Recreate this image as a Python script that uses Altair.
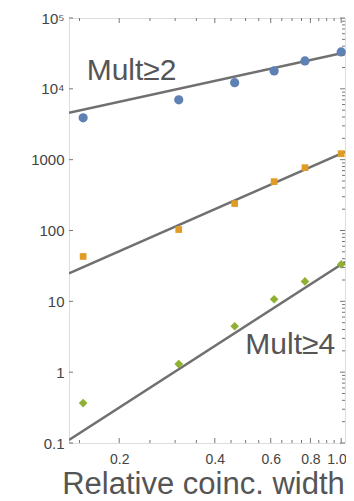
import altair as alt
import pandas as pd

# ---- data ----
x_vals = [0.154, 0.308, 0.462, 0.615, 0.769, 1.0]
mult2 = [3900, 7000, 12200, 17900, 24800, 33200]
mult3 = [43, 103, 240, 490, 771, 1216]
mult4 = [0.366, 1.30, 4.45, 10.7, 19.1, 33.2]

fit_x = [0.139, 1.028]
fit2 = [4600, 32500]
fit3 = [24.8, 1285]
fit4 = [0.11, 36.0]

labels_text = ["Mult≥2", "Mult≥4"]
labels_x = [0.158, 0.499]
labels_y = [13400, 1.80]

x_major = [0.2, 0.4, 0.6, 0.8, 1.0]
x_minor = [0.15, 0.25, 0.3, 0.35, 0.45, 0.5, 0.55, 0.65, 0.7, 0.75, 0.85, 0.9, 0.95]
y_major = [0.1, 1, 10, 100, 1000, 10000, 100000]
y_major_labels = ["0.1", "1", "10", "100", "1000", "10⁴", "10⁵"]
y_minor = [m * d for d in [0.1, 1, 10, 100, 1000, 10000] for m in range(2, 10)]

W, H = 276, 425
FONT = "Liberation Sans"
SPINE = "#777777"

xscale = alt.Scale(type="log", domain=[0.139, 1.028], nice=False)
yscale = alt.Scale(type="log", domain=[0.1, 100000], nice=False)

pts = pd.DataFrame({
    "x": x_vals * 3,
    "y": mult2 + mult3 + mult4,
    "s": ["m2"] * 6 + ["m3"] * 6 + ["m4"] * 6,
})
fits = pd.DataFrame({
    "x": fit_x * 3,
    "y": fit2 + fit3 + fit4,
    "s": ["m2"] * 2 + ["m3"] * 2 + ["m4"] * 2,
})
labs = pd.DataFrame({"t": labels_text, "x": labels_x, "y": labels_y})

ylabel_expr = " : ".join(
    f"datum.value == {v} ? '{l}'" for v, l in zip(y_major, y_major_labels)
) + " : ''"

x_axis = alt.Axis(
    values=x_major, format=".1f", grid=False, domain=False, ticks=False,
    labelFont=FONT, labelFontSize=14, labelColor="#444444", labelPadding=9,
    labelFlush=False, labelOverlap=False,
    labelAlign={"condition": {"test": "datum.value > 0.95", "value": "right"}, "value": "center"},
    labelOffset={"condition": {"test": "datum.value > 0.95", "value": 5}, "value": 0},
    title="Relative coinc. width", titleFont=FONT, titleFontSize=31,
    titleFontWeight="normal", titleColor="#555555", titleX=134, titleY=50,
    titleAlign="center", titleBaseline="alphabetic",
)
y_axis = alt.Axis(
    values=y_major, labelExpr=ylabel_expr, grid=False, domain=False, ticks=False,
    labelFont=FONT, labelFontSize=15, labelColor="#444444", labelPadding=5,
    labelFlush=False, labelOverlap=False, title=None,
)

lines = alt.Chart(fits).mark_line(color="#707070", strokeWidth=2.5, clip=True).encode(
    x=alt.X("x:Q", scale=xscale, axis=x_axis),
    y=alt.Y("y:Q", scale=yscale, axis=y_axis),
    detail="s:N",
)

def series(name, shape, color, size):
    return alt.Chart(pts[pts.s == name]).mark_point(
        shape=shape, filled=True, color=color, size=size, opacity=1
    ).encode(
        x=alt.X("x:Q", scale=xscale),
        y=alt.Y("y:Q", scale=yscale),
    )

p2 = series("m2", "circle", "#5e81b5", 85)
p3 = series("m3", "square", "#e19c24", 45)
p4 = series("m4", "diamond", "#8fb032", 75)

texts = alt.Chart(labs).mark_text(
    font=FONT, fontSize=30, color="#555555", align="left", baseline="alphabetic"
).encode(
    x=alt.X("x:Q", scale=xscale),
    y=alt.Y("y:Q", scale=yscale),
    text="t:N",
)

def xticks(vals, y0, y1):
    return alt.Chart(pd.DataFrame({"v": vals})).mark_rule(color=SPINE, strokeWidth=1).encode(
        x=alt.X("v:Q", scale=xscale), y=alt.value(y0), y2=alt.value(y1)
    )

def yticks(vals, x0, x1):
    return alt.Chart(pd.DataFrame({"v": vals})).mark_rule(color=SPINE, strokeWidth=1).encode(
        y=alt.Y("v:Q", scale=yscale), x=alt.value(x0), x2=alt.value(x1)
    )

tick_layers = [
    xticks(x_major, H, H - 5), xticks(x_minor, H, H - 3),
    xticks(x_major, 0, 5), xticks(x_minor, 0, 3),
    yticks(y_major, 0, 4),
    yticks(y_major, W, W - 5), yticks(y_minor, W, W - 3),
]

chart = alt.layer(lines, p2, p3, p4, texts, *tick_layers).properties(
    width=W, height=H,
    autosize=alt.AutoSizeParams(type="none"),
    padding={"left": 61, "top": 10, "right": 1, "bottom": 56},
).configure_view(stroke=SPINE, strokeWidth=1.2).configure(background="white")

chart.save("out.html", embed_options={"renderer": "svg", "actions": False})
